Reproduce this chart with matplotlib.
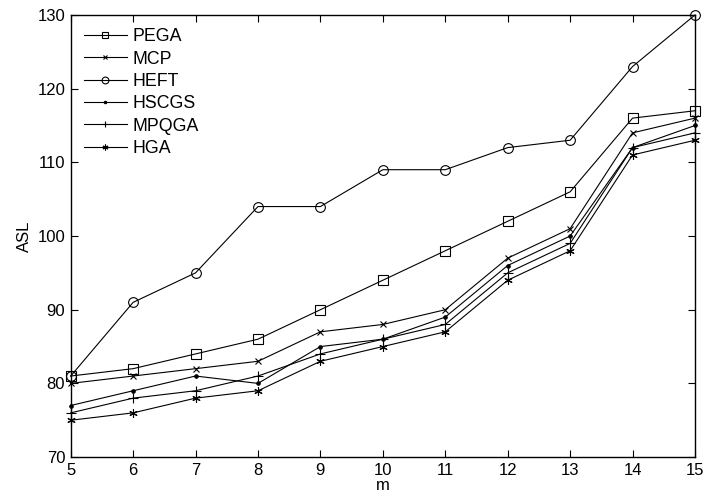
import numpy as np
import matplotlib
matplotlib.use("Agg")
import matplotlib.pyplot as plt

plt.rcParams['font.family'] = ['Liberation Sans', 'DejaVu Sans']
plt.rcParams['font.size'] = 12

m = [5, 6, 7, 8, 9, 10, 11, 12, 13, 14, 15]
pega = [81, 82, 84, 86, 90, 94, 98, 102, 106, 116, 117]
mcp = [80, 81, 82, 83, 87, 88, 90, 97, 101, 114, 116]
heft = [81, 91, 95, 104, 104, 109, 109, 112, 113, 123, 130]
hscgs = [77, 79, 81, 80, 85, 86, 89, 96, 100, 112, 115]
mpqga = [76, 78, 79, 81, 84, 86, 88, 95, 99, 112, 114]
hga = [75, 76, 78, 79, 83, 85, 87, 94, 98, 111, 113]

series = [
    ("PEGA", pega, "s", 7),
    ("MCP", mcp, "x", 4),
    ("HEFT", heft, "o", 7),
    ("HSCGS", hscgs, ".", 5),
    ("MPQGA", mpqga, "+", 7),
    ("HGA", hga, (6, 2, 0), 6),
]

fig = plt.figure(figsize=(7.07, 4.99), dpi=100)
ax = fig.add_axes([0.100, 0.084, 0.883, 0.886])

for name, vals, mk, ms in series:
    ax.plot(m, vals, color="black", lw=0.8, marker=mk, markersize=ms,
            markerfacecolor="none" if mk in ("s", "o") else "black",
            markeredgewidth=0.8, label=name, clip_on=False)

ax.set_xlim(5, 15)
ax.set_ylim(70, 130)
ax.set_xticks(m)
ax.set_yticks([70, 80, 90, 100, 110, 120, 130])
ax.tick_params(direction="in", top=True, right=True, length=5, width=0.8, pad=4)
for s in ax.spines.values():
    s.set_linewidth(1.0)
ax.set_xlabel("m", labelpad=0)
ax.set_ylabel("ASL")

ax.legend(loc="upper left", frameon=False, handlelength=2.4, labelspacing=0.3,
          handletextpad=0.3, borderaxespad=0.35, fontsize=12.8, markerscale=0.7)

fig.savefig("out.png", dpi=100)
